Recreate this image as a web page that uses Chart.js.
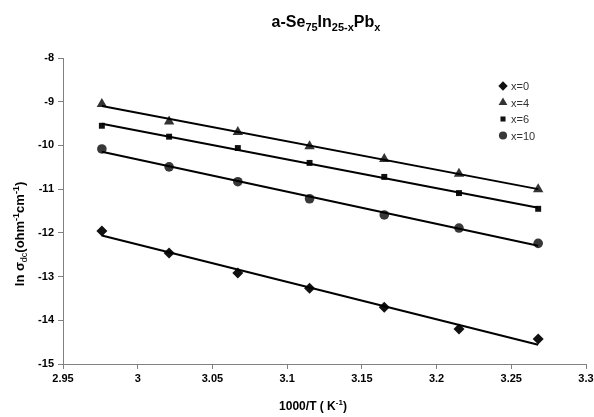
<!DOCTYPE html>
<html>
<head>
<meta charset="utf-8">
<script src="https://cdn.jsdelivr.net/npm/chart.js@4.4.0/dist/chart.umd.min.js"></script>
<style>
  html, body { margin: 0; padding: 0; background: #fff; }
  #wrap { width: 594px; height: 417px; }
</style>
</head>
<body>
<div id="wrap"><canvas id="cond"></canvas></div>
<script>
// 1000/T values (K^-1) and ln(sigma_dc)
const invTemp = [2.976, 3.021, 3.067, 3.115, 3.165, 3.215, 3.268];
const seriesNames = ['x=0', 'x=4', 'x=6', 'x=10'];
const lnSigmaX0 = [-11.96, -12.46, -12.92, -13.27, -13.70, -14.20, -14.43];
const lnSigmaX4 = [-9.05, -9.45, -9.69, -10.02, -10.31, -10.65, -11.00];
const lnSigmaX6 = [-9.55, -9.80, -10.06, -10.40, -10.72, -11.09, -11.45];
const lnSigmaX10 = [-10.08, -10.49, -10.83, -11.22, -11.59, -11.89, -12.24];
const xRange = [2.95, 3.3];
const yRange = [-15, -8];

const FONT = "'Liberation Sans', Arial, sans-serif";

const markers = [
  { style: 'rectRot', radius: 5.5, color: '#111' },
  { style: 'triangle', radius: 6, color: '#333' },
  { style: 'rect', radius: 4.2, color: '#111' },
  { style: 'circle', radius: 4.8, color: '#383838' }
];

// least squares trend line, like the spreadsheet trendline
function trend(xs, ys) {
  const n = xs.length;
  let sx = 0, sy = 0, sxx = 0, sxy = 0;
  for (let i = 0; i < n; i++) {
    sx += xs[i]; sy += ys[i]; sxx += xs[i] * xs[i]; sxy += xs[i] * ys[i];
  }
  const b = (n * sxy - sx * sy) / (n * sxx - sx * sx);
  const a = (sy - b * sx) / n;
  const x0 = xs[0], x1 = xs[n - 1];
  return [{ x: x0, y: a + b * x0 }, { x: x1, y: a + b * x1 }];
}

const allSeries = [lnSigmaX0, lnSigmaX4, lnSigmaX6, lnSigmaX10];
const datasets = [];
allSeries.forEach((ys, i) => {
  datasets.push({
    label: 'fit ' + seriesNames[i],
    data: trend(invTemp, ys),
    showLine: true,
    borderColor: '#000',
    borderWidth: 2,
    pointRadius: 0,
    order: 1
  });
});
allSeries.forEach((ys, i) => {
  const m = markers[i];
  datasets.push({
    label: seriesNames[i],
    data: invTemp.map((x, k) => ({ x: x, y: ys[k] })),
    showLine: false,
    pointStyle: m.style,
    pointRadius: m.radius,
    pointBackgroundColor: m.color,
    pointBorderColor: m.color,
    pointBorderWidth: 0,
    order: 2
  });
});

// draws text made of pieces with sub/superscripts, centred on x
function drawRich(ctx, parts, x, y) {
  let total = 0;
  parts.forEach(p => {
    ctx.font = (p.bold === false ? '' : 'bold ') + p.size + 'px ' + FONT;
    p.w = ctx.measureText(p.t).width;
    total += p.w;
  });
  let cx = x - total / 2;
  ctx.textAlign = 'left';
  ctx.textBaseline = 'alphabetic';
  parts.forEach(p => {
    ctx.font = (p.bold === false ? '' : 'bold ') + p.size + 'px ' + FONT;
    ctx.fillText(p.t, cx, y + (p.dy || 0));
    cx += p.w;
  });
}

const textPlugin = {
  id: 'textPlugin',
  afterDraw(chart) {
    const ctx = chart.ctx;
    ctx.save();
    ctx.fillStyle = '#000';
    // chart title
    drawRich(ctx, [
      { t: 'a-Se', size: 16 }, { t: '75', size: 11, dy: 4 },
      { t: 'In', size: 16 }, { t: '25-x', size: 11, dy: 4 },
      { t: 'Pb', size: 16 }, { t: 'x', size: 11, dy: 4 }
    ], 326, 27);
    // x axis title
    drawRich(ctx, [
      { t: '1000/T ( K', size: 12 }, { t: '-1', size: 8, dy: -5 },
      { t: ')', size: 12 }
    ], 313, 410);
    // y axis title
    ctx.translate(24, 234);
    ctx.rotate(-Math.PI / 2);
    drawRich(ctx, [
      { t: 'ln ', size: 13 }, { t: 'σ', size: 13 },
      { t: 'dc', size: 9, dy: 3, bold: false },
      { t: '(ohm', size: 13 }, { t: '-1', size: 9, dy: -5 },
      { t: 'cm', size: 13 }, { t: '-1', size: 9, dy: -5 },
      { t: ')', size: 13 }
    ], 0, 0);
    ctx.restore();

    // legend in the upper right
    ctx.save();
    const lx = 503, ly = 86, step = 16.5;
    seriesNames.forEach((name, i) => {
      const m = markers[i];
      const y = ly + i * step;
      ctx.fillStyle = m.color;
      ctx.strokeStyle = m.color;
      ctx.lineWidth = 0;
      Chart.helpers.drawPoint(ctx, { pointStyle: m.style, radius: m.radius * 0.85, rotation: 0, borderWidth: 0 }, lx, y);
      ctx.fillStyle = '#333';
      ctx.font = '11px ' + FONT;
      ctx.textAlign = 'left';
      ctx.textBaseline = 'middle';
      ctx.fillText(name, lx + 8, y + 1);
    });
    ctx.restore();
  }
};

new Chart(document.getElementById('cond'), {
  type: 'scatter',
  data: { datasets: datasets },
  options: {
    responsive: true,
    maintainAspectRatio: false,
    animation: false,
    layout: { padding: { top: 58, right: 8, left: 0, bottom: 0 } },
    plugins: { legend: { display: false }, tooltip: { enabled: false } },
    scales: {
      x: {
        type: 'linear',
        min: xRange[0],
        max: xRange[1],
        ticks: {
          stepSize: 0.05,
          color: '#000',
          padding: 3,
          maxRotation: 0,
          font: { family: FONT, size: 11, weight: 'bold' },
          callback: v => String(Number(v.toFixed(2)))
        },
        grid: { drawOnChartArea: false, tickLength: 5, color: '#808080' },
        border: { color: '#808080', width: 1 },
        afterFit(scale) {
          scale.height = 53;
          scale.paddingLeft = 0;
          scale.paddingRight = 0;
        }
      },
      y: {
        min: yRange[0],
        max: yRange[1],
        ticks: {
          stepSize: 1,
          color: '#000',
          padding: 4,
          font: { family: FONT, size: 11, weight: 'bold' }
        },
        grid: { drawOnChartArea: false, tickLength: 5, color: '#808080' },
        border: { color: '#808080', width: 1 },
        afterFit(scale) {
          scale.width = 63;
          scale.paddingTop = 0;
          scale.paddingBottom = 0;
        }
      }
    }
  },
  plugins: [textPlugin]
});
</script>
</body>
</html>
